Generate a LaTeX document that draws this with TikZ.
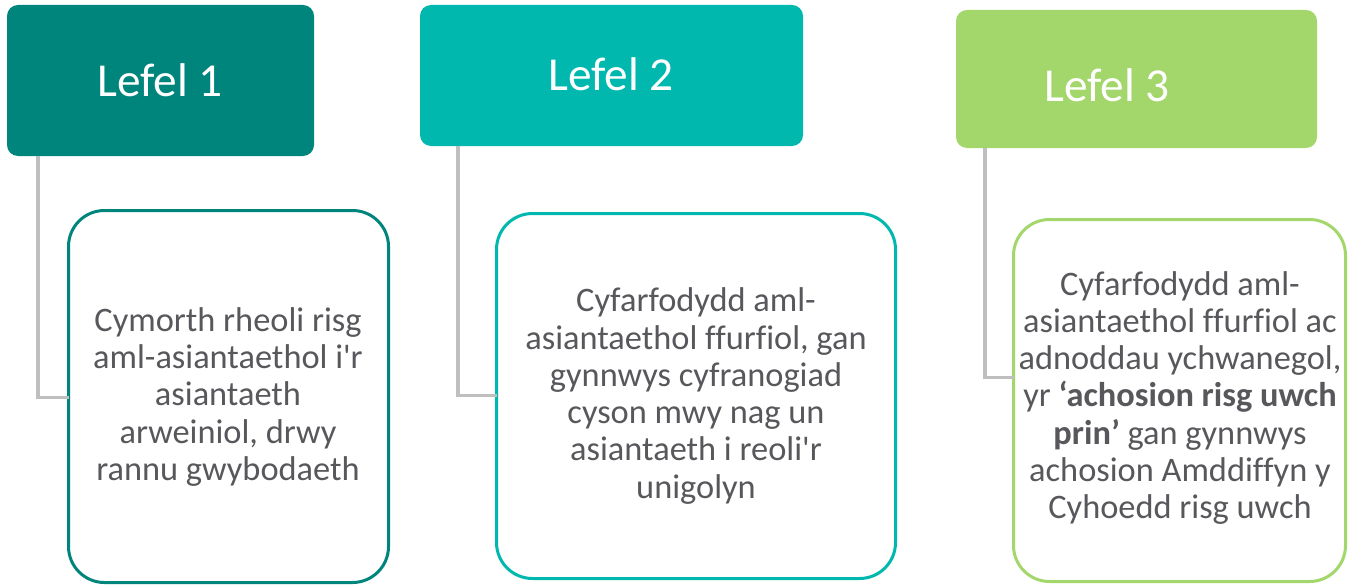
\documentclass[tikz,border=0pt]{standalone}
\usepackage{fontspec}
\setmainfont{Carlito}[Ligatures={TeXOff,CommonOff}]
\usetikzlibrary{calc}
\definecolor{cA}{RGB}{0,133,124}
\definecolor{cB}{RGB}{0,184,174}
\definecolor{cC}{RGB}{163,215,107}
\definecolor{txtgray}{RGB}{88,88,92}
\definecolor{conngray}{RGB}{191,191,191}
\tikzset{
  hdr/.style={rounded corners=11bp, inner sep=0pt, outer sep=0pt, anchor=north west},
  hdrtext/.style={text=white, font=\fontsize{47.5}{54}\selectfont},
  detail/.style={draw, line width=3bp, rounded corners=36bp, fill=white, inner sep=0pt,
    outer sep=0pt, anchor=north west},
  bodytext/.style={text=txtgray, align=center, font=\fontsize{34.5}{37.4}\selectfont}
  ,conn/.style={draw=conngray, line width=3.5bp}
}
\begin{document}
\begin{tikzpicture}[x=1bp,y=-1bp]
\useasboundingbox (0,0) rectangle (1352,585);
% headers
\node[hdr, fill=cA, minimum width=307bp, minimum height=151bp] (h1) at (7,5) {};
\node[hdrtext] (t1) at (160,80) {Lefel 1};
\node[hdr, fill=cB, minimum width=383bp, minimum height=141bp] (h2) at (420,5) {};
\node[hdrtext] (t2) at (611,74) {Lefel 2};
\node[hdr, fill=cC, minimum width=361bp, minimum height=138bp] (h3) at (956,10) {};
\node[hdrtext] (t3) at (1107,85) {Lefel 3};
% detail boxes
\node[detail, draw=cA, minimum width=320bp, minimum height=372bp] (d1) at (68.5,210.5) {};
\node[bodytext] (x1) at (228,397)
  {Cymorth rheoli risg\\aml-asiantaethol i'r\\asiantaeth\\arweiniol, drwy\\rannu gwybodaeth};
\node[detail, draw=cB, minimum width=399bp, minimum height=365bp] (d2) at (496.5,213.5) {};
\node[bodytext] (x2) at (696,396)
  {Cyfarfodydd aml-\\asiantaethol ffurfiol, gan\\gynnwys cyfranogiad\\cyson mwy nag un\\asiantaeth i reoli'r\\unigolyn};
\node[detail, draw=cC, minimum width=332bp, minimum height=362bp] (d3) at (1013.5,219.5) {};
\node[bodytext] (x3) at (1180,398)
  {Cyfarfodydd aml-\\asiantaethol ffurfiol ac\\adnoddau ychwanegol,\\yr \textbf{‘achosion risg uwch}\\\textbf{prin’} gan gynnwys\\achosion Amddiffyn y\\Cyhoedd risg uwch};
% connectors
\draw[conn] ($(h1.south west)+(31,0)$) |- ($(d1.north west)+(0,187)$);
\draw[conn] ($(h2.south west)+(38,0)$) |- ($(d2.north west)+(0,182)$);
\draw[conn] ($(h3.south west)+(29,0)$) |- ($(d3.north west)+(0,158)$);
\end{tikzpicture}
\end{document}
